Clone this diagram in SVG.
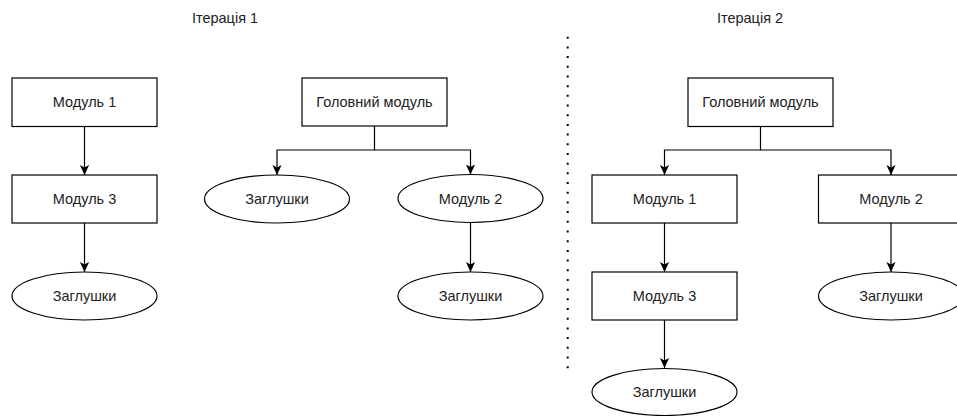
<svg xmlns="http://www.w3.org/2000/svg" width="957" height="416" viewBox="0 0 957 416">
  <style>
    .box { fill: #ffffff; stroke: #000000; stroke-width: 1.2; }
    .lbl { font-family: "Liberation Sans", Arial, sans-serif; font-size: 14.5px; fill: #222222; text-anchor: middle; }
    .edge { fill: none; stroke: #000000; stroke-width: 1.2; }
    .sep { fill: none; stroke: #000000; stroke-width: 2; stroke-dasharray: 2 7.69; }
  </style>
  <defs>
    <marker id="arrow" markerUnits="userSpaceOnUse" markerWidth="11" markerHeight="10" refX="10" refY="4.6" orient="auto">
      <path d="M0,0 L10,4.6 L0,9.2 L2.6,4.6 Z" fill="#000000"/>
    </marker>
  </defs>
  <rect width="957" height="416" fill="#ffffff"/>

  <!-- section titles -->
  <text class="lbl" x="225" y="23">Ітерація 1</text>
  <text class="lbl" x="750" y="23">Ітерація 2</text>

  <!-- divider between iterations -->
  <line class="sep" x1="567.7" y1="36.7" x2="567.7" y2="368.5"/>

  <!-- connectors -->
  <g id="connectors">
    <!-- iteration 1, left chain -->
    <path class="edge" d="M84.5,126.5 V175" marker-end="url(#arrow)"/>
    <path class="edge" d="M84.5,223 V272" marker-end="url(#arrow)"/>
    <!-- iteration 1, main module tree -->
    <path class="edge" d="M374.5,126 V150 H277 V175" marker-end="url(#arrow)"/>
    <path class="edge" d="M374.5,150 H470.5 V174.5" marker-end="url(#arrow)"/>
    <path class="edge" d="M470.5,222.5 V272" marker-end="url(#arrow)"/>
    <!-- iteration 2 -->
    <path class="edge" d="M760.5,126.5 V150 H664.5 V175" marker-end="url(#arrow)"/>
    <path class="edge" d="M760.5,150 H891 V175" marker-end="url(#arrow)"/>
    <path class="edge" d="M664.5,223 V272" marker-end="url(#arrow)"/>
    <path class="edge" d="M664.5,320 V368" marker-end="url(#arrow)"/>
    <path class="edge" d="M891,223 V272" marker-end="url(#arrow)"/>
  </g>

  <!-- iteration 1 nodes -->
  <g id="it1-module1">
    <rect class="box" x="12" y="78" width="145" height="48.5"/>
    <text class="lbl" x="84.5" y="107.2">Модуль 1</text>
  </g>
  <g id="it1-module3">
    <rect class="box" x="12" y="175" width="145" height="48"/>
    <text class="lbl" x="84.5" y="204">Модуль 3</text>
  </g>
  <g id="it1-stub-a">
    <ellipse class="box" cx="84.5" cy="296" rx="72.5" ry="24"/>
    <text class="lbl" x="84.5" y="301">Заглушки</text>
  </g>
  <g id="it1-main">
    <rect class="box" x="302" y="78" width="145" height="48"/>
    <text class="lbl" x="374.5" y="107">Головний модуль</text>
  </g>
  <g id="it1-stub-b">
    <ellipse class="box" cx="277" cy="199" rx="72.5" ry="24"/>
    <text class="lbl" x="277" y="204">Заглушки</text>
  </g>
  <g id="it1-module2">
    <ellipse class="box" cx="470.5" cy="198.5" rx="72.5" ry="24"/>
    <text class="lbl" x="470.5" y="203.5">Модуль 2</text>
  </g>
  <g id="it1-stub-c">
    <ellipse class="box" cx="470.5" cy="296" rx="72.5" ry="24"/>
    <text class="lbl" x="470.5" y="301">Заглушки</text>
  </g>

  <!-- iteration 2 nodes -->
  <g id="it2-main">
    <rect class="box" x="688" y="78" width="145" height="48.5"/>
    <text class="lbl" x="760.5" y="107.2">Головний модуль</text>
  </g>
  <g id="it2-module1">
    <rect class="box" x="592" y="175" width="145" height="48"/>
    <text class="lbl" x="664.5" y="204">Модуль 1</text>
  </g>
  <g id="it2-module2">
    <rect class="box" x="818.5" y="175" width="145" height="48"/>
    <text class="lbl" x="891" y="204">Модуль 2</text>
  </g>
  <g id="it2-module3">
    <rect class="box" x="592" y="272" width="145" height="48"/>
    <text class="lbl" x="664.5" y="301">Модуль 3</text>
  </g>
  <g id="it2-stub-a">
    <ellipse class="box" cx="891" cy="296" rx="72.5" ry="24"/>
    <text class="lbl" x="891" y="301">Заглушки</text>
  </g>
  <g id="it2-stub-b">
    <ellipse class="box" cx="664.5" cy="392" rx="72.5" ry="23.5"/>
    <text class="lbl" x="664.5" y="397">Заглушки</text>
  </g>
</svg>
